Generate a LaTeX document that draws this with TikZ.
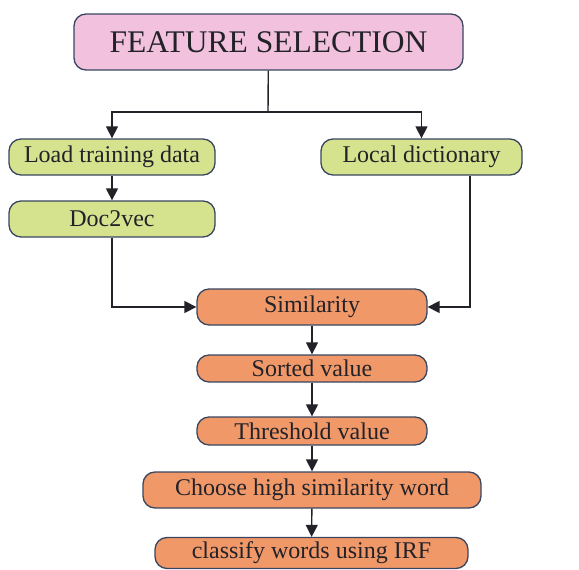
\documentclass[tikz,border=0pt]{standalone}
\usepackage{fontspec}
\setmainfont{Liberation Serif}
\usetikzlibrary{arrows.meta}
\definecolor{boxpink}{RGB}{241,193,221}
\definecolor{boxgreen}{RGB}{213,226,142}
\definecolor{boxorange}{RGB}{241,152,105}
\definecolor{boxline}{RGB}{58,70,96}
\definecolor{txt}{RGB}{34,34,40}
\begin{document}
\begin{tikzpicture}[x=1pt, y=-1pt,
  box/.style = {draw=boxline, line width=1.3pt, rounded corners=12pt, inner sep=0pt,
    text=txt, font=\fontsize{24}{26}\selectfont},
  gbox/.style = {box, fill=boxgreen, minimum height=36pt},
  obox/.style = {box, fill=boxorange},
  arr/.style = {line width=1.4pt, draw=txt, -{Triangle[length=12pt, width=12pt]}}]
  \useasboundingbox (0,0) rectangle (579,570);
  \node[box, fill=boxpink, minimum width=389pt, minimum height=56pt,
    font=\fontsize{31.5}{34}\selectfont] (fs) at (268.5, 42) {FEATURE SELECTION};
  \node[gbox, minimum width=206pt] (ltd) at (112, 157) {Load training data};
  \node[gbox, minimum width=201pt] (ld) at (421.5, 157) {Local dictionary};
  \node[gbox, minimum width=206pt] (d2v) at (112, 219) {Doc2vec};
  \node[obox, minimum width=230pt, minimum height=36pt] (sim) at (312, 307) {Similarity};
  \node[obox, minimum width=230pt, minimum height=27pt] (sv) at (312, 368.5) {Sorted value};
  \node[obox, minimum width=230pt, minimum height=28pt] (tv) at (312, 431) {Threshold value};
  \node[obox, minimum width=338pt, minimum height=36pt] (chs) at (312, 490) {Choose high similarity word};
  \node[obox, minimum width=313pt, minimum height=31pt] (cls) at (311.5, 553) {classify words using IRF};
  \coordinate (br) at (268, 112);
  \draw[line width=1.4pt, draw=txt] (fs) -- (br);
  \draw[arr] (br) -| (ltd);
  \draw[arr] (br) -| (ld);
  \draw[arr] (ltd) -- (d2v);
  \draw[arr] (d2v) |- (sim);
  \draw[arr] ([xshift=48.5pt]ld.south) |- (sim);
  \draw[arr] (sim) -- (sv);
  \draw[arr] (sv) -- (tv);
  \draw[arr] (tv) -- (chs);
  \draw[arr] (chs) -- (cls);
\end{tikzpicture}
\end{document}
